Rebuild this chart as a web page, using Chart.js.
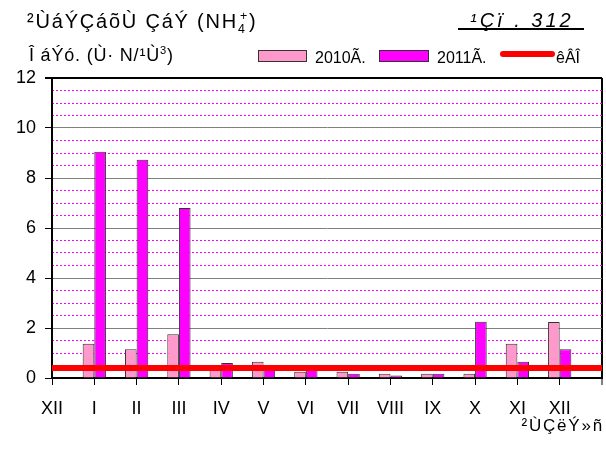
<!DOCTYPE html>
<html>
<head>
<meta charset="utf-8">
<script src="https://cdn.jsdelivr.net/npm/chart.js@4.4.1/dist/chart.umd.min.js"></script>
<style>
  html, body { margin: 0; padding: 0; background: #fff; }
  #wrap { position: relative; width: 606px; height: 455px; overflow: hidden;
          font-family: "Liberation Sans", Arial, sans-serif; color: #000; }
  #c { position: absolute; left: 0; top: 0; }
  .t { position: absolute; white-space: nowrap; line-height: 1; }
  .t sub, .t sup { font-size: 62%; line-height: 0; }
  .box { position: absolute; height: 10px; border: 1px solid #333; }
</style>
</head>
<body>
<div id="wrap">
  <canvas id="c" width="606" height="455"></canvas>

  <div class="t" style="left:27px; top:11px; font-size:20px; letter-spacing:1.8px;">²ÙáÝÇáõÙ ÇáÝ (NH<sub>4</sub><sup style="margin-left:-0.55em">+</sup>)</div>
  <div class="t" style="left:29px; top:46px; font-size:18px; letter-spacing:0.8px;">Î áÝó. (Ù· N/¹Ù<sup>3</sup>)</div>

  <div class="t" style="left:470px; top:10px; font-size:20px; font-style:italic; letter-spacing:3px;">¹Çï . 312</div>
  <div style="position:absolute; left:458px; top:28px; width:126px; height:2px; background:#000;"></div>

  <div class="box" style="left:258px; top:50px; width:47px; background:#FF99CC;"></div>
  <div class="t" style="left:315px; top:50px; font-size:16px;">2010Ã.</div>
  <div class="box" style="left:379px; top:50px; width:48px; background:#FF00FF;"></div>
  <div class="t" style="left:437px; top:50px; font-size:16px;">2011Ã.</div>
  <div style="position:absolute; left:500px; top:51px; width:55px; height:6px; border-radius:3px; background:#FF0000;"></div>
  <div class="t" style="left:556px; top:50px; font-size:16px;">êÂÎ</div>

  <div class="t" style="right:2px; top:417px; font-size:17px; letter-spacing:1.8px;">²ÙÇëÝ»ñ</div>
</div>

<script>
// Months along the x axis (last slot is the empty closing position)
const months = ['XII', 'I', 'II', 'III', 'IV', 'V', 'VI', 'VII', 'VIII', 'IX', 'X', 'XI', 'XII', ''];

// Monthly ammonium concentrations, mg N/dm3
const values2010 = [null, 1.37, 1.15, 1.75, 0.40, 0.65, 0.25, 0.25, 0.17, 0.17, 0.17, 1.37, 2.24, null];
const values2011 = [null, 9.05, 8.73, 6.80, 0.60, 0.45, 0.50, 0.17, 0.10, 0.17, 2.25, 0.65, 1.15, null];

// Maximum permissible concentration level
const mpcValues = [0.4, 0.4, 0.4, 0.4, 0.4, 0.4, 0.4, 0.4, 0.4, 0.4, 0.4, 0.4, 0.4, 0.4];

// Axis ticks
const yMax = 12;
const yMajorStep = 2;
const yMinorStep = 0.5;

const FONT = '"Liberation Sans", Arial, sans-serif';

new Chart(document.getElementById('c'), {
  data: {
    labels: months,
    datasets: [
      {
        type: 'line',
        label: 'êÂÎ',
        data: mpcValues,
        borderColor: '#FF0000',
        borderWidth: 6,
        pointRadius: 0,
        order: 0,
        yAxisID: 'y'
      },
      {
        type: 'bar',
        label: '2010Ã.',
        data: values2010,
        backgroundColor: '#FF99CC',
        borderColor: '#333333',
        borderWidth: 1,
        categoryPercentage: 0.55,
        barPercentage: 1,
        order: 1,
        yAxisID: 'y'
      },
      {
        type: 'bar',
        label: '2011Ã.',
        data: values2011,
        backgroundColor: '#FF00FF',
        borderColor: '#333333',
        borderWidth: 1,
        categoryPercentage: 0.55,
        barPercentage: 1,
        order: 1,
        yAxisID: 'y'
      }
    ]
  },
  options: {
    responsive: false,
    animation: false,
    devicePixelRatio: 1,
    layout: { padding: { top: 78, right: 4, left: 0, bottom: 0 } },
    plugins: { legend: { display: false }, tooltip: { enabled: false } },
    scales: {
      x: {
        type: 'category',
        offset: false,
        grid: {
          offset: false,
          drawOnChartArea: true,
          color: c => (c.index === months.length - 1 ? '#000' : 'rgba(0,0,0,0)'),
          lineWidth: c => (c.index === months.length - 1 ? 2 : 1),
          tickColor: '#000',
          tickLength: 7,
          tickWidth: 1
        },
        border: { color: '#000', width: 2 },
        ticks: {
          autoSkip: false,
          maxRotation: 0,
          padding: 13,
          color: '#000',
          font: { family: FONT, size: 18 }
        },
        afterFit(scale) {
          scale.height = 77;
          scale.paddingLeft = 0;
          scale.paddingRight = 0;
        }
      },
      y: {
        position: 'left',
        min: 0,
        max: yMax,
        ticks: {
          stepSize: yMajorStep,
          padding: 9,
          color: '#000',
          font: { family: FONT, size: 18 }
        },
        grid: {
          color: c => (c.tick && c.tick.value === yMax ? '#000' : '#808080'),
          lineWidth: c => (c.tick && c.tick.value === yMax ? 2 : 1),
          tickColor: '#000',
          tickLength: 7
        },
        border: { color: '#000', width: 2 },
        afterFit(scale) { scale.width = 52; }
      },
      yMinor: {
        position: 'right',
        min: 0,
        max: yMax,
        ticks: { display: false, stepSize: yMinorStep },
        grid: {
          drawTicks: false,
          color: c => (c.tick && c.tick.value % yMajorStep === 0 ? 'rgba(0,0,0,0)' : '#FF00FF'),
          lineWidth: 1
        },
        border: { display: false, dash: [2, 2] },
        afterFit(scale) { scale.width = 0; }
      }
    }
  }
});
</script>
</body>
</html>
